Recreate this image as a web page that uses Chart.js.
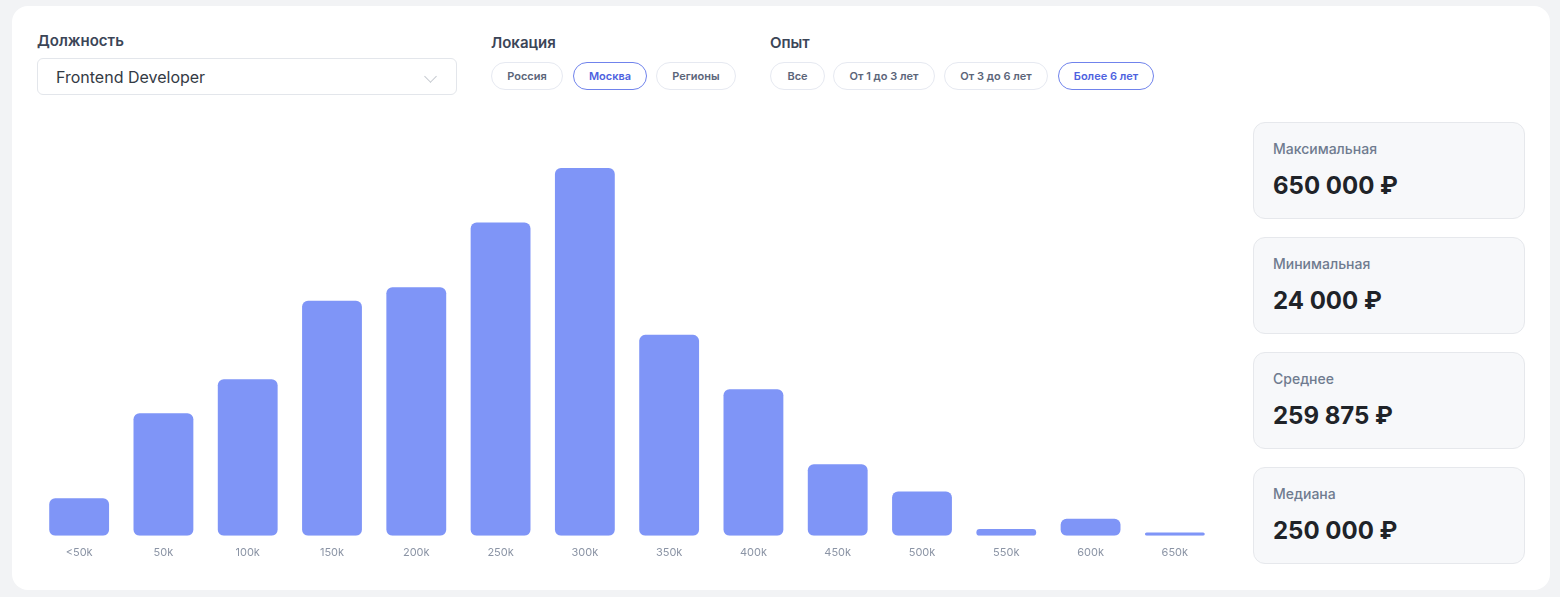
<!DOCTYPE html>
<html><head><meta charset="utf-8">
<script src="https://cdn.jsdelivr.net/npm/chart.js@4/dist/chart.umd.min.js"></script>
<style>
html,body{margin:0;padding:0;background:#f2f3f5;font-family:Inter,"Noto Sans",sans-serif;}
body{width:1560px;height:597px;position:relative;overflow:hidden;}
.card{position:absolute;left:12px;top:6px;width:1538px;height:584px;background:#fff;border-radius:16px;}
.lbl{position:absolute;font-size:15px;font-weight:600;color:#3b4557;}
.select{position:absolute;left:37px;top:58px;width:420px;height:37px;border:1px solid #e3e6eb;border-radius:6px;box-sizing:border-box;font-size:16px;color:#333a44;line-height:36px;padding-left:18px;}
.chev{position:absolute;left:426px;top:72px;width:8px;height:8px;border-right:1.3px solid #c5c9d0;border-bottom:1.3px solid #c5c9d0;transform:rotate(45deg);}
.pill{position:absolute;top:62px;height:28px;box-sizing:border-box;border:1px solid #e6e9f1;border-radius:14px;font-size:11px;font-weight:600;color:#5b6579;display:flex;align-items:center;justify-content:center;}
.pill.on{border-color:#7083ec;color:#4d62e0;}
.stat{position:absolute;left:1253px;width:272px;height:97px;background:#f7f8fa;border:1px solid #e6e8ec;border-radius:12px;box-sizing:border-box;}
.stat .t{position:absolute;left:19px;top:17px;font-size:14px;font-weight:500;color:#6f7b8f;}
.stat .v{position:absolute;left:19px;top:48px;font-size:24px;font-weight:700;color:#202328;}
#wrap{position:absolute;left:37px;top:150px;width:1180px;height:419px;}
</style></head>
<body>
<div class="card"></div>
<div class="lbl" style="left:37px;top:31px;">Должность</div>
<div class="select">Frontend Developer</div>
<div class="chev"></div>
<div class="lbl" style="left:491px;top:33px;">Локация</div>
<div class="pill" style="left:491px;width:72px;">Россия</div>
<div class="pill on" style="left:573px;width:74px;">Москва</div>
<div class="pill" style="left:656px;width:80px;">Регионы</div>
<div class="lbl" style="left:770px;top:33px;">Опыт</div>
<div class="pill" style="left:770px;width:55px;">Все</div>
<div class="pill" style="left:833px;width:102px;">От 1 до 3 лет</div>
<div class="pill" style="left:944px;width:104px;">От 3 до 6 лет</div>
<div class="pill on" style="left:1058px;width:96px;">Более 6 лет</div>

<div class="stat" style="top:122px;"><div class="t">Максимальная</div><div class="v">650 000 ₽</div></div>
<div class="stat" style="top:237px;"><div class="t">Минимальная</div><div class="v">24 000 ₽</div></div>
<div class="stat" style="top:352px;"><div class="t">Среднее</div><div class="v">259 875 ₽</div></div>
<div class="stat" style="top:467px;"><div class="t">Медиана</div><div class="v">250 000 ₽</div></div>

<div id="wrap"><canvas id="c"></canvas></div>
<script>
const categories = ["<50k","50k","100k","150k","200k","250k","300k","350k","400k","450k","500k","550k","600k","650k"];
const counts = [11, 36, 46, 69, 73, 92, 108, 59, 43, 21, 13, 2, 5, 1];
const yMax = 108;

new Chart(document.getElementById('c'), {
  type: 'bar',
  data: {
    labels: categories,
    datasets: [{
      data: counts,
      backgroundColor: '#7f95f7',
      borderRadius: 6,
      borderSkipped: false,
      barPercentage: 0.71,
      categoryPercentage: 1
    }]
  },
  options: {
    responsive: true,
    maintainAspectRatio: false,
    animation: false,
    layout: { padding: { top: 18, left: 0, right: 0, bottom: 0 } },
    plugins: { legend: { display: false }, tooltip: { enabled: false } },
    scales: {
      x: {
        grid: { display: false, drawTicks: false },
        border: { display: false },
        ticks: { color: '#8b94a5', font: { family: 'Inter', size: 11 }, padding: 10, maxRotation: 0 }
      },
      y: {
        display: false,
        min: 0,
        max: yMax
      }
    }
  }
});
</script>
</body></html>
